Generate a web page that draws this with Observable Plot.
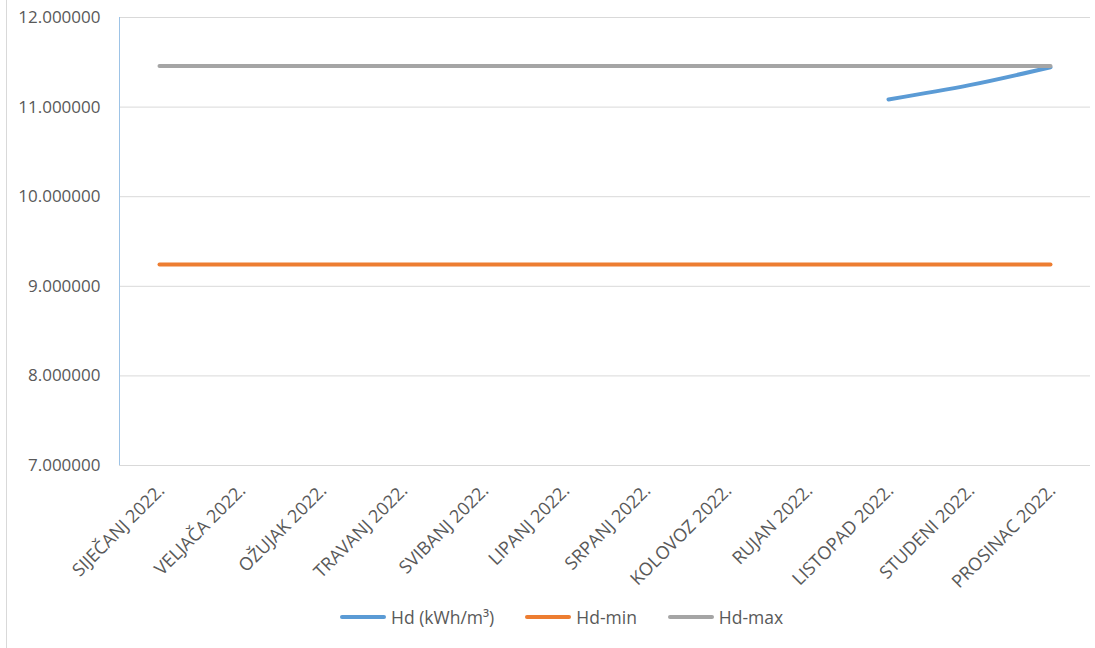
<!DOCTYPE html>
<html>
<head>
<meta charset="utf-8">
<script src="https://cdn.jsdelivr.net/npm/d3@7"></script>
<script src="https://cdn.jsdelivr.net/npm/@observablehq/plot@0.6"></script>
<style>
  body { margin: 0; background: #fff; font-family: "Open Sans", sans-serif; }
  #wrap { position: relative; width: 1095px; height: 648px; overflow: hidden; }
  #border { position: absolute; left: 6px; top: 0; width: 1px; height: 648px; background: #d9d9d9; }
  #legend { position: absolute; left: 340px; top: 605px; display: flex; align-items: center; font-size: 17.5px; color: #595959; }
  .item { display: flex; align-items: center; margin-right: 31px; }
  .sw { width: 46px; height: 4px; border-radius: 2px; margin-right: 5px; }
</style>
</head>
<body>
<div id="wrap">
  <div id="chart"></div>
  <div id="border"></div>
  <div id="legend"></div>
</div>
<script>
const months = ["SIJEČANJ 2022.", "VELJAČA 2022.", "OŽUJAK 2022.", "TRAVANJ 2022.", "SVIBANJ 2022.", "LIPANJ 2022.", "SRPANJ 2022.", "KOLOVOZ 2022.", "RUJAN 2022.", "LISTOPAD 2022.", "STUDENI 2022.", "PROSINAC 2022."];
const hd = [null, null, null, null, null, null, null, null, null, 11.085, 11.245, 11.445];
const hdMin = [9.243, 9.243, 9.243, 9.243, 9.243, 9.243, 9.243, 9.243, 9.243, 9.243, 9.243, 9.243];
const hdMax = [11.46, 11.46, 11.46, 11.46, 11.46, 11.46, 11.46, 11.46, 11.46, 11.46, 11.46, 11.46];
const seriesNames = ["Hd (kWh/m³)", "Hd-min", "Hd-max"];
const seriesColors = ["#5b9bd5", "#ed7d31", "#a5a5a5"];
const yTicks = [7, 8, 9, 10, 11, 12];

const rows = [];
[hd, hdMin, hdMax].forEach((vals, si) => {
  months.forEach((m, i) => rows.push({month: m, value: vals[i], series: seriesNames[si]}));
});

const chart = Plot.plot({
  width: 1095,
  height: 600,
  marginTop: 17,
  marginBottom: 135,
  marginLeft: 119,
  marginRight: 5,
  style: {fontFamily: "Open Sans, sans-serif", fontSize: "17px", color: "#595959", background: "#fff"},
  x: {type: "point", domain: months, padding: 0.47},
  y: {domain: [7, 12]},
  color: {domain: seriesNames, range: seriesColors},
  marks: [
    Plot.gridY(yTicks, {stroke: "#d9d9d9", strokeOpacity: 1, strokeWidth: 1}),
    Plot.axisY(yTicks, {tickSize: 0, tickPadding: 19, tickFormat: d => d.toFixed(6), fill: "#595959", fontSize: 17, label: null}),
    Plot.axisX({tickSize: 0, tickRotate: -45, tickPadding: 22, dx: 2, fill: "#595959", fontSize: 18, label: null}),
    Plot.line(rows, {x: "month", y: "value", z: "series", stroke: "series", strokeWidth: 4, strokeLinecap: "round", strokeLinejoin: "round", curve: "catmull-rom"})
  ]
});
document.getElementById("chart").appendChild(chart);

// left axis line in light blue, positioned from the y scale
const svg = d3.select(chart);
const yS = chart.scale("y");
svg.append("line")
  .attr("x1", 119.5).attr("x2", 119.5)
  .attr("y1", yS.apply(12)).attr("y2", yS.apply(7))
  .attr("stroke", "#9dc3e6").attr("stroke-width", 1);

const leg = document.getElementById("legend");
seriesNames.forEach((n, i) => {
  const it = document.createElement("div");
  it.className = "item";
  it.innerHTML = `<span class="sw" style="background:${seriesColors[i]}"></span><span>${n}</span>`;
  leg.appendChild(it);
});
</script>
</body>
</html>
